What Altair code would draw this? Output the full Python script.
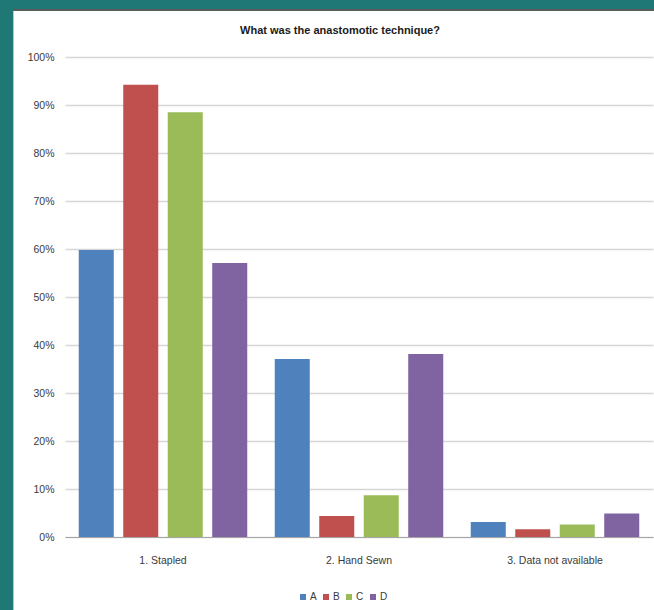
import altair as alt
import pandas as pd

# Answer categories and respondent groups
categories = ["1. Stapled", "2. Hand Sewn", "3. Data not available"]
groups = ["A", "B", "C", "D"]

# Share of each answer per group
share_a = [0.598, 0.371, 0.031]
share_b = [0.942, 0.044, 0.016]
share_c = [0.885, 0.087, 0.026]
share_d = [0.571, 0.381, 0.049]

colors = ["#4F81BD", "#C0504D", "#9BBB59", "#8064A2"]
y_ticks = [0, 0.1, 0.2, 0.3, 0.4, 0.5, 0.6, 0.7, 0.8, 0.9, 1.0]

TEAL = "#1f7876"
FONT = "Liberation Sans"

rows = []
for g, vals in zip(groups, [share_a, share_b, share_c, share_d]):
    for c, v in zip(categories, vals):
        rows.append({"technique": c, "group": g, "share": v})
df = pd.DataFrame(rows)

frame = pd.DataFrame({"k": [0]})

# Slide frame: teal band on top and left with thin edge lines
top_band = alt.Chart(frame).mark_rect(fill=TEAL).encode(
    x=alt.value(-65), x2=alt.value(589), y=alt.value(-57), y2=alt.value(-48)
)
top_edge = alt.Chart(frame).mark_rect(fill="#5c5c5c").encode(
    x=alt.value(-65), x2=alt.value(589), y=alt.value(-48), y2=alt.value(-46)
)
left_band = alt.Chart(frame).mark_rect(fill=TEAL).encode(
    x=alt.value(-65), x2=alt.value(-52), y=alt.value(-57), y2=alt.value(553)
)
left_edge = alt.Chart(frame).mark_rect(fill="#c4c4c4").encode(
    x=alt.value(-52), x2=alt.value(-51), y=alt.value(-46), y2=alt.value(553)
)

bars = alt.Chart(df).mark_bar().encode(
    x=alt.X(
        "technique:N",
        sort=categories,
        scale=alt.Scale(paddingInner=0, paddingOuter=0),
        axis=alt.Axis(
            title=None,
            labelAngle=0,
            ticks=False,
            labelPadding=18,
            labelFontSize=10.5,
            labelColor="#3a3a3a",
            labelFont=FONT,
            domainColor="#a6a6a6",
            domainWidth=1,
            grid=False,
        ),
    ),
    xOffset=alt.XOffset(
        "group:N",
        sort=groups,
        scale=alt.Scale(paddingInner=0.213, paddingOuter=0.309),
    ),
    y=alt.Y(
        "share:Q",
        scale=alt.Scale(domain=[0, 1]),
        axis=alt.Axis(
            title=None,
            format=".0%",
            values=y_ticks,
            domain=False,
            ticks=False,
            labelPadding=11,
            labelFontSize=10.5,
            labelColor="#3a3a3a",
            labelFont=FONT,
            gridColor="#d6d6d6",
            gridWidth=1.3,
        ),
    ),
    color=alt.Color(
        "group:N",
        scale=alt.Scale(domain=groups, range=colors),
        legend=alt.Legend(
            title=None,
            orient="none",
            legendX=233,
            legendY=535,
            direction="horizontal",
            symbolType="square",
            symbolSize=36,
            symbolStrokeWidth=0,
            labelFontSize=10,
            labelFont=FONT,
            labelColor="#3a3a3a",
            labelOffset=2,
            columnPadding=4,
        ),
    ),
)

title = alt.Chart(frame).mark_text(
    text="What was the anastomotic technique?",
    font=FONT,
    fontSize=11,
    fontWeight="bold",
    color="#1a1a1a",
    align="center",
    baseline="middle",
).encode(x=alt.value(275), y=alt.value(-26))

chart = (
    alt.layer(top_band, top_edge, left_band, left_edge, bars, title)
    .properties(
        width=588,
        height=480,
        autosize=alt.AutoSizeParams(type="none"),
        padding={"left": 65, "top": 57, "right": 1, "bottom": 73},
        background="white",
    )
    .configure_view(stroke=None)
)

chart.save("out.html", embed_options={"renderer": "svg", "actions": False})
